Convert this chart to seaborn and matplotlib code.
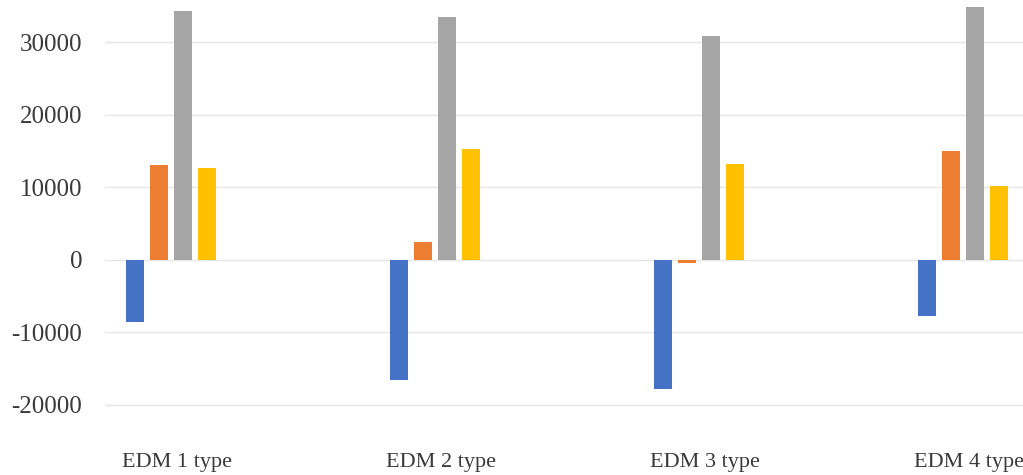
import pandas as pd
import numpy as np
import matplotlib
matplotlib.use('Agg')
import matplotlib.pyplot as plt
import matplotlib.transforms as mtransforms
import seaborn as sns

# Data
categories = ['EDM 1 type', 'EDM 2 type', 'EDM 3 type', 'EDM 4 type']
series_names = ['Series 1', 'Series 2', 'Series 3', 'Series 4']
series_1 = [-8500, -16550, -17800, -7700]
series_2 = [13100, 2500, -450, 15000]
series_3 = [34350, 33550, 30950, 34850]
series_4 = [12650, 15300, 13200, 10200]
y_ticks = [-20000, -10000, 0, 10000, 20000, 30000]

colors = ['#4472C4', '#ED7D31', '#A5A5A5', '#FFC000']

# Long-format table for seaborn
df = pd.DataFrame({
    'Category': categories * 4,
    'Series': np.repeat(series_names, len(categories)),
    'Value': series_1 + series_2 + series_3 + series_4,
})

sns.set_style('white')
plt.rcParams['font.family'] = ['Liberation Serif', 'DejaVu Serif']

fig = plt.figure(figsize=(10.23, 4.75), dpi=100)
ax = fig.add_axes([105 / 1023, 68 / 475, 1 - 105 / 1023, 407 / 475])

sns.barplot(data=df, x='Category', y='Value', hue='Series', hue_order=series_names,
            order=categories, palette=colors, width=0.364, gap=0.25,
            saturation=1, linewidth=0, legend=False, ax=ax)

ax.set_ylim(-20280, 35860)
ax.set_xlim(-0.25, 3.227)
ax.set_yticks(y_ticks)
ax.set_yticklabels([str(t) for t in y_ticks])
ax.yaxis.grid(True, color='#e6e6e6', linewidth=1)
ax.set_axisbelow(True)
ax.set_xlabel('')
ax.set_ylabel('')
for s in ax.spines.values():
    s.set_visible(False)

ax.tick_params(axis='y', length=0, pad=16.5, labelsize=18, labelcolor='#3a3a3a')
ax.tick_params(axis='x', length=0, pad=33, labelsize=16, labelcolor='#3a3a3a')

# category labels sit a little right of the bar groups in the reference
shift = mtransforms.ScaledTranslation(6 / 100, 0, fig.dpi_scale_trans)
for lbl in ax.get_xticklabels():
    lbl.set_transform(lbl.get_transform() + shift)

fig.savefig('out.png', dpi=100)
